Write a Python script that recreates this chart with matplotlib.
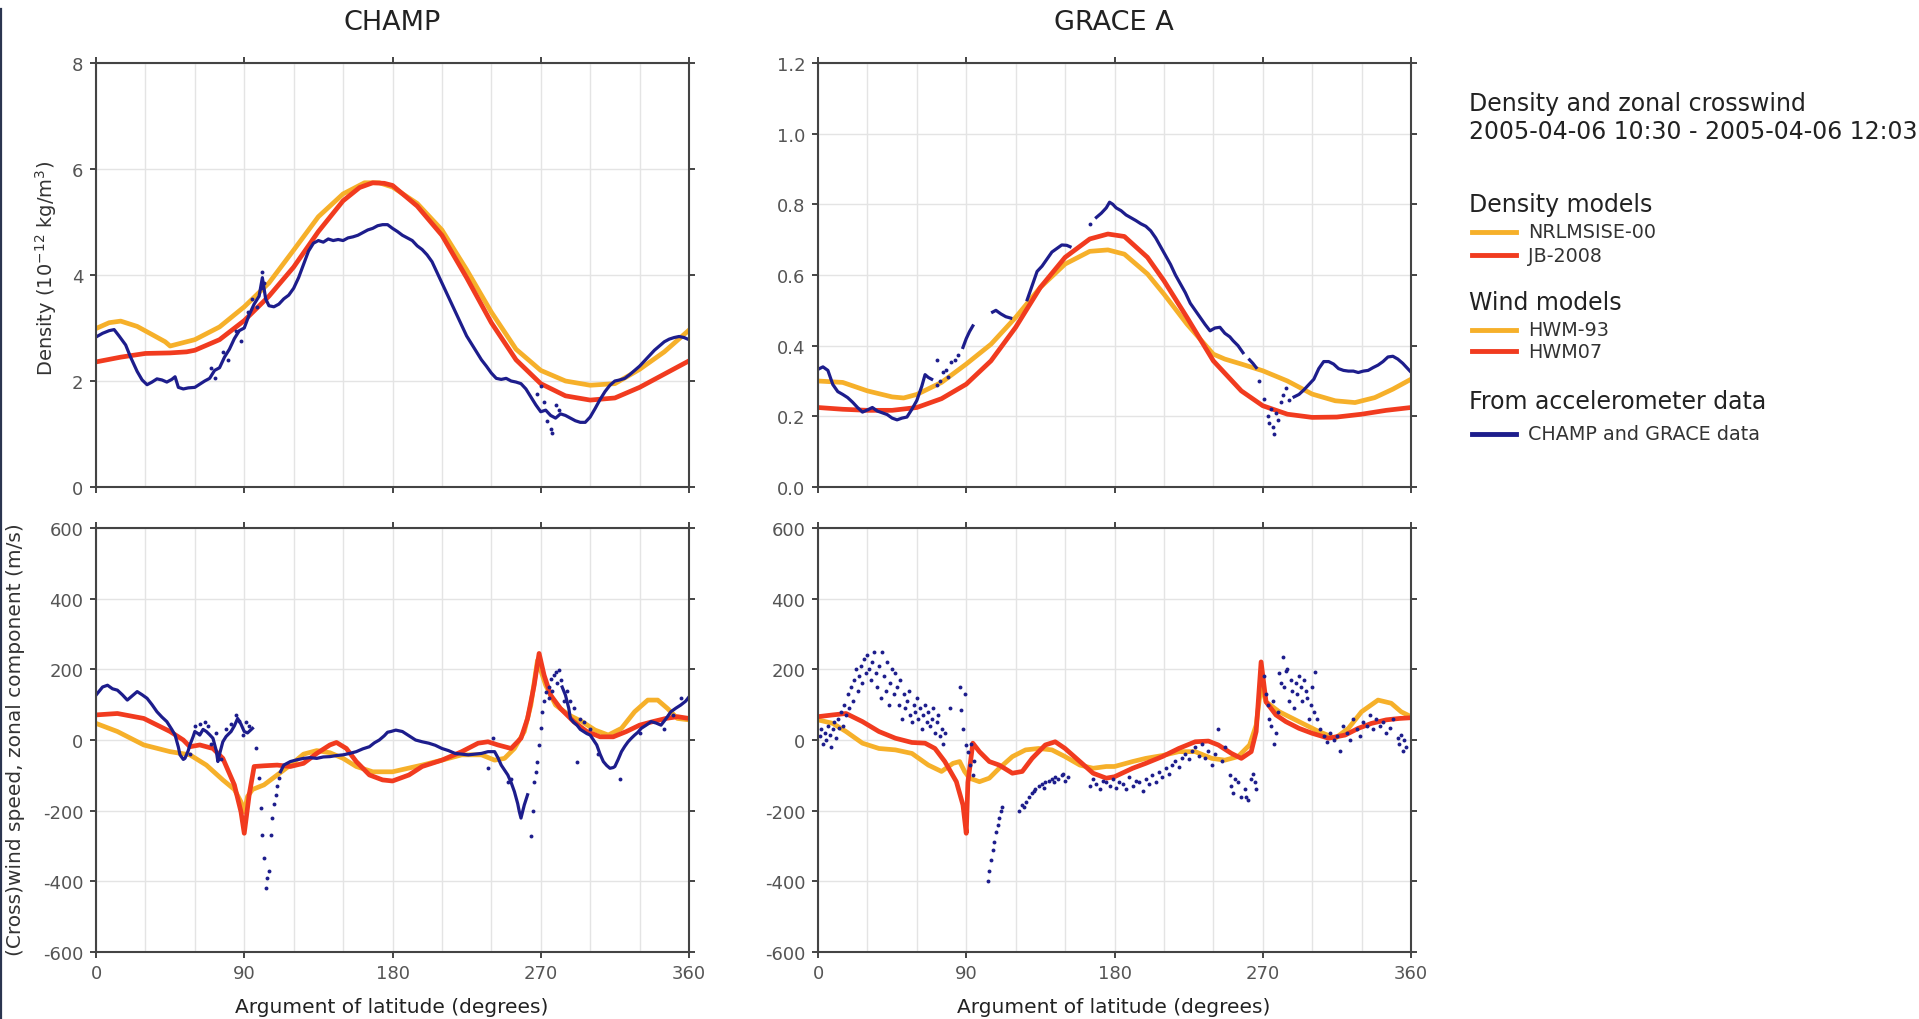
import matplotlib
matplotlib.use("Agg")
import matplotlib.pyplot as plt
import numpy as np
from matplotlib.lines import Line2D
from matplotlib.ticker import FormatStrFormatter

plt.rcParams["font.family"] = ["DejaVu Sans"]
plt.rcParams["axes.unicode_minus"] = False
plt.rcParams["mathtext.default"] = "regular"

NAN = np.nan

# ---------------- CHAMP density (10^-12 kg/m^3) ----------------
champ_nrl_deg = [0, 8, 15, 25, 35, 42, 45, 50, 60, 75, 90, 105, 120, 135, 150, 163, 172, 180,
                 195, 210, 225, 240, 255, 270, 285, 300, 315, 330, 345, 360]
champ_nrl = [2.99, 3.10, 3.13, 3.03, 2.86, 2.74, 2.66, 2.70, 2.78, 3.02, 3.40, 3.85, 4.47, 5.10,
             5.53, 5.74, 5.74, 5.66, 5.35, 4.85, 4.10, 3.30, 2.60, 2.20, 2.00, 1.92, 1.95, 2.22,
             2.55, 2.96]
champ_jb_deg = [0, 15, 30, 45, 55, 60, 75, 90, 105, 120, 135, 150, 160, 168, 175, 180, 195, 210,
                225, 240, 255, 270, 285, 300, 315, 330, 345, 360]
champ_jb = [2.36, 2.45, 2.52, 2.53, 2.55, 2.58, 2.78, 3.14, 3.60, 4.15, 4.82, 5.40, 5.65, 5.74,
            5.73, 5.69, 5.30, 4.75, 3.95, 3.10, 2.40, 1.95, 1.72, 1.64, 1.68, 1.88, 2.13, 2.38]
champ_obs_deg = [0, 4, 8, 11, 14, 18, 21, 25, 28, 31, 34, 37, 40, 43, 46, 48, 50, 53, 56, 60,
                 63, 66, 69, 72, 75, 78, 81, 84, 87, 90, 93, 96, 99, 101, 103, 105, 108, 111,
                 114, 117, 120, 123, 126, 129, 132, 135, 138, 141, 144, 147, 150, 153, 156, 159,
                 162, 165, 168, 171, 174, 177, 180, 183, 186, 189, 192, 195, 198, 201, 204, 207,
                 210, 213, 216, 219, 222, 225, 228, 231, 234, 237, 240, 243, 246, 249, 252, 255,
                 258, 261, 264, 267, 270, 273, 276, 279, 282, 285, 288, 291, 294, 297, 300, 303,
                 306, 309, 312, 315, 318, 321, 324, 327, 330, 333, 336, 339, 342, 345, 348, 351,
                 354, 357, 360]
champ_obs = [2.83, 2.90, 2.95, 2.97, 2.85, 2.68, 2.45, 2.18, 2.02, 1.93, 1.98, 2.04, 2.02, 1.98,
             2.03, 2.08, 1.88, 1.85, 1.87, 1.88, 1.94, 2.00, 2.05, 2.20, 2.25, 2.45, 2.60, 2.80,
             2.95, 3.00, 3.25, 3.45, 3.60, 3.95, 3.55, 3.42, 3.40, 3.45, 3.55, 3.62, 3.75, 3.95,
             4.20, 4.45, 4.60, 4.65, 4.62, 4.68, 4.65, 4.67, 4.65, 4.70, 4.72, 4.75, 4.80, 4.85,
             4.88, 4.93, 4.95, 4.95, 4.88, 4.82, 4.75, 4.70, 4.65, 4.55, 4.48, 4.38, 4.25, 4.05,
             3.85, 3.65, 3.45, 3.25, 3.05, 2.85, 2.70, 2.55, 2.40, 2.28, 2.15, 2.05, 2.03, 2.05,
             2.00, 1.98, 1.95, 1.85, 1.70, 1.55, 1.42, 1.45, 1.35, 1.30, 1.38, 1.35, 1.30, 1.25,
             1.22, 1.22, 1.32, 1.48, 1.65, 1.80, 1.92, 2.00, 2.02, 2.05, 2.12, 2.20, 2.28, 2.38,
             2.48, 2.58, 2.66, 2.74, 2.79, 2.82, 2.84, 2.82, 2.78]
champ_pts_deg = [70, 72, 77, 80, 85, 88, 92, 95, 98, 100, 101, 102,
                 268, 270, 272, 274, 276, 277, 279, 281]
champ_pts = [2.25, 2.05, 2.55, 2.40, 2.95, 2.75, 3.30, 3.55, 3.40, 3.75, 4.05, 3.85,
             1.75, 1.90, 1.60, 1.25, 1.10, 1.02, 1.55, 1.45]

# ---------------- GRACE A density (10^-12 kg/m^3) ----------------
grace_nrl_deg = [0, 15, 30, 45, 52, 60, 75, 90, 105, 120, 135, 150, 165, 176, 186, 200, 210,
                 224, 240, 247, 257, 270, 285, 300, 314, 326, 338, 349, 360]
grace_nrl = [0.300, 0.296, 0.272, 0.255, 0.252, 0.262, 0.296, 0.348, 0.404, 0.480, 0.565,
             0.631, 0.667, 0.671, 0.659, 0.603, 0.546, 0.461, 0.376, 0.362, 0.348, 0.329,
             0.300, 0.263, 0.244, 0.239, 0.253, 0.277, 0.305]
grace_jb_deg = [0, 15, 30, 45, 60, 75, 90, 105, 120, 135, 150, 165, 176, 186, 200, 210, 224,
                240, 257, 270, 285, 300, 315, 330, 345, 360]
grace_jb = [0.225, 0.220, 0.217, 0.217, 0.225, 0.250, 0.291, 0.357, 0.452, 0.565, 0.650,
            0.702, 0.716, 0.709, 0.650, 0.584, 0.480, 0.357, 0.272, 0.230, 0.206, 0.197,
            0.198, 0.206, 0.217, 0.225]
grace_obs_deg = [0, 3, 6, 9, 12, 15, 18, 21, 24, 27, 30, 33, 36, 39, 42, 45, 48, 51, 54, 57,
                 60, 63, 65, 67, 69, 70, 88, 90, 92, 94, 95, 106, 108, 111, 114, 117, 118,
                 127, 130, 133, 136, 139, 142, 145, 148, 151, 153, 154, 169, 172, 175, 177,
                 179, 181, 184, 187, 190, 193, 196, 199, 202, 205, 208, 211, 214, 217, 220,
                 223, 226, 229, 232, 235, 238, 241, 244, 247, 250, 252, 255, 258, 259, 262,
                 264, 266, 267, 289, 292, 295, 298, 301, 304, 307, 310, 313, 316, 319, 322,
                 325, 328, 331, 334, 337, 340, 343, 346, 349, 352, 355, 358, 360]
grace_obs = [0.333, 0.340, 0.330, 0.290, 0.270, 0.262, 0.253, 0.240, 0.225, 0.212, 0.218,
             0.225, 0.215, 0.210, 0.205, 0.195, 0.190, 0.195, 0.198, 0.220, 0.245, 0.285,
             0.318, 0.310, 0.305, NAN, 0.395, 0.420, 0.440, 0.456, NAN, 0.495, 0.500, 0.490,
             0.482, 0.478, NAN, 0.530, 0.570, 0.610, 0.625, 0.645, 0.665, 0.675, 0.685, 0.684,
             0.680, NAN, 0.763, 0.775, 0.790, 0.806, 0.800, 0.790, 0.782, 0.770, 0.762, 0.754,
             0.745, 0.738, 0.725, 0.705, 0.680, 0.655, 0.630, 0.600, 0.575, 0.550, 0.520,
             0.500, 0.480, 0.460, 0.442, 0.450, 0.452, 0.435, 0.425, 0.414, 0.400, 0.380, NAN,
             0.360, 0.350, 0.338, NAN, 0.255, 0.262, 0.275, 0.290, 0.305, 0.335, 0.355, 0.355,
             0.348, 0.335, 0.330, 0.328, 0.328, 0.324, 0.328, 0.330, 0.338, 0.345, 0.355,
             0.368, 0.370, 0.362, 0.350, 0.335, 0.325]
grace_pts_deg = [72, 72, 74, 76, 78, 79, 81, 83, 85, 165,
                 268, 271, 273, 274, 275, 276, 277, 278, 279, 281, 282, 284, 286]
grace_pts = [0.36, 0.29, 0.30, 0.325, 0.33, 0.31, 0.355, 0.36, 0.375, 0.744,
             0.30, 0.25, 0.20, 0.18, 0.22, 0.17, 0.15, 0.21, 0.19, 0.24, 0.26, 0.28, 0.245]

# ---------------- CHAMP zonal crosswind (m/s) ----------------
champ_hwm93_deg = [0, 13, 29, 45, 57, 67, 77, 84, 88, 90, 92, 95, 102, 110, 118, 126, 134, 142,
                   150, 158, 168, 180, 198, 210, 222, 234, 242, 248, 254, 260, 264, 268, 273,
                   279, 287, 295, 303, 311, 319, 327, 335, 341, 347, 353, 360]
champ_hwm93 = [47, 24, -14, -33, -42, -71, -113, -140, -175, -203, -160, -140, -127, -99, -71,
               -40, -30, -36, -52, -75, -90, -90, -71, -57, -42, -42, -57, -52, -24, 24, 99,
               225, 155, 99, 71, 52, 28, 14, 33, 80, 113, 113, 89, 61, 57]
champ_hwm07_deg = [0, 13, 29, 45, 53, 57, 63, 71, 77, 84, 88, 90, 93, 96, 102, 110, 118, 126,
                   134, 142, 146, 152, 158, 166, 174, 180, 190, 198, 210, 222, 232, 238, 244,
                   252, 258, 262, 266, 269, 272, 276, 282, 290, 298, 306, 314, 322, 330, 338,
                   346, 353, 360]
champ_hwm07 = [71, 75, 61, 24, 0, -19, -14, -24, -52, -127, -203, -264, -155, -75, -73, -71,
               -75, -66, -38, -14, -7, -24, -61, -99, -113, -116, -99, -75, -57, -33, -9, -5,
               -14, -24, 5, 61, 155, 245, 184, 127, 89, 52, 24, 9, 9, 24, 42, 52, 61, 66, 61]
champ_wind_deg = [0, 4, 7, 10, 13, 16, 19, 22, 25, 28, 31, 34, 37, 40, 43, 46, 48, 50, 51, 53,
                  54, 56, 57, 59, 60, 62, 63, 65, 67, 69, 71, 73, 74, 75, 77, 79, 82, 84, 86,
                  88, 90, 92, 95, 96,
                  112, 114, 118, 122, 126, 130, 134, 138, 142, 146, 150, 154, 158, 162, 166,
                  169, 172, 175, 177, 179, 182, 186, 190, 194, 198, 202, 206, 210, 214, 218,
                  222, 226, 230, 234, 238, 242, 244, 246, 248, 250, 252, 254, 256, 257, 258,
                  260, 262, 263,
                  283, 285, 287, 288, 290, 292, 294, 296, 298, 300, 302, 304, 306, 308, 310,
                  312, 314, 315, 317, 319, 321, 323, 325, 327, 329, 331, 334, 337, 340, 343,
                  346, 349, 352, 355, 358, 360]
champ_wind = [127, 150, 155, 145, 141, 128, 113, 125, 137, 128, 118, 100, 80, 65, 52, 30, 14,
              -20, -42, -55, -52, -30, -14, 10, 24, 18, 14, 30, 24, 15, 5, -30, -61, -40, -5,
              10, 24, 40, 61, 45, 24, 20, 33, NAN,
              -90, -71, -61, -56, -52, -50, -52, -48, -47, -44, -42, -38, -33, -25, -19, -8,
              0, 12, 22, 24, 28, 24, 12, 0, -5, -9, -15, -24, -30, -38, -40, -42, -40, -38,
              -33, -33, -50, -71, -85, -99, -120, -146, -180, -203, -221, -184, -155, NAN,
              150, 127, 90, 61, 50, 42, 30, 24, 18, 14, 0, -14, -40, -61, -72, -80, -78, -75,
              -55, -33, -18, -5, 5, 14, 22, 33, 42, 52, 48, 42, 60, 80, 90, 99, 110, 122]
champ_wind_pts_deg = [57, 60, 63, 66, 68, 70, 73, 76, 79, 82, 85, 87, 89, 91, 93,
                      97, 99, 100, 101, 102, 103, 104, 105, 106, 107, 108, 109, 110, 111,
                      238, 241, 250, 252,
                      264, 265, 266, 267, 268, 269, 270, 271, 272, 273, 275, 276, 278, 279,
                      281, 282, 275, 277, 280, 284, 286, 288, 290, 292, 294, 296, 300, 305,
                      318, 330, 345, 350, 355]
champ_wind_pts = [-40, 40, 45, 50, 40, -10, 20, -55, 30, 45, 70, 55, 15, 50, 40,
                  -24, -108, -193, -268, -334, -419, -390, -372, -268, -221, -180, -155, -130,
                  -108,
                  -80, 5, -120, -110,
                  -273, -200, -118, -90, -61, -14, 33, 80, 110, 137, 150, 174, 185, 193,
                  198, 170, 120, 140, 160, 110, 140, 110, 90, -61, 60, 50, 30, -40,
                  -110, 20, 30, 70, 120]

# ---------------- GRACE A zonal crosswind (m/s) ----------------
grace_hwm93_deg = [0, 9, 17, 27, 37, 47, 57, 67, 75, 82, 86, 89, 92, 98, 104, 110, 118, 126,
                   134, 142, 150, 159, 167, 175, 180, 191, 199, 209, 219, 229, 239, 247, 255,
                   262, 266, 269, 272, 280, 292, 304, 314, 322, 330, 340, 348, 354, 360]
grace_hwm93 = [57, 47, 24, -9, -24, -28, -38, -71, -89, -66, -61, -89, -108, -118, -108, -80,
               -47, -28, -24, -28, -47, -71, -80, -75, -75, -61, -52, -44, -33, -33, -52, -57,
               -47, -14, 42, 155, 108, 80, 52, 24, 5, 33, 80, 113, 104, 80, 66]
grace_hwm07_deg = [0, 9, 17, 27, 37, 47, 57, 65, 71, 77, 84, 88, 90, 91, 94, 98, 104, 110, 118,
                   124, 130, 138, 144, 150, 159, 167, 175, 180, 191, 199, 209, 219, 229, 237,
                   243, 251, 257, 263, 266, 269, 272, 278, 284, 292, 300, 310, 320, 328, 336,
                   345, 353, 360]
grace_hwm07 = [66, 71, 75, 52, 24, 5, -7, -9, -24, -61, -118, -184, -264, -120, -9, -33, -61,
               -71, -94, -89, -52, -14, -5, -24, -61, -94, -108, -104, -80, -66, -47, -24, -5,
               -3, -14, -38, -52, -33, 24, 221, 108, 71, 52, 33, 19, 5, 14, 33, 47, 57, 61, 63]
grace_wind_deg = [1, 2, 3, 4, 5, 6, 7, 8, 9, 10, 11, 12, 13, 14, 15,
                  16, 17, 18, 19, 20, 21, 22, 23, 24, 25, 26, 27, 28, 29, 30, 31, 32, 33, 34,
                  35, 36, 37, 38, 39, 40, 41, 42, 43, 44, 45, 46,
                  47, 48, 49, 50, 51, 52, 53, 54, 55, 56, 57, 58, 59, 60, 61, 62, 63, 64, 65,
                  66, 67, 68, 69, 70, 71, 72, 73, 74, 75, 76, 77,
                  80, 86, 87, 88, 89, 90, 91, 92, 93, 94, 95,
                  103, 104, 105, 106, 107, 108, 109, 110, 111, 112,
                  122, 124, 125, 126, 128, 130, 131, 132, 134, 136, 137, 138, 140, 142, 143,
                  144, 146, 148, 149, 150, 152,
                  165, 167, 169, 171, 173, 175, 177, 179, 181, 183, 185, 187, 189, 191, 193,
                  195, 197, 199, 201, 203, 205, 207, 209,
                  211, 213, 215, 217, 219, 221, 223, 225, 227, 229, 231,
                  233, 235, 237, 239, 241, 243, 245, 247,
                  250, 251, 252, 253, 255, 257, 259, 260, 261, 263, 264, 265, 266,
                  271, 272, 273, 274, 275, 276, 277, 278, 279, 280, 281, 282, 283, 284, 285,
                  286, 287, 288, 289, 290, 291, 292, 293, 294, 295, 296, 297, 298, 299, 300,
                  301, 302, 303,
                  305, 307, 309, 311, 313, 315, 317, 319, 321, 323, 325, 327, 329, 331, 333,
                  335, 337, 339, 341, 343, 345, 347, 349,
                  352, 353, 354, 355, 356, 357]
grace_wind = [10, 30, -10, 20, 0, 40, 15, -20, 30, 50, 5, 60, 35, 80, 40,
              100, 70, 130, 90, 150, 110, 170, 200, 140, 180, 210, 160, 230, 190, 240, 200,
              170, 220, 250, 190, 150, 210, 120, 250, 180, 140, 220, 100, 160, 200, 130,
              190, 150, 100, 170, 60, 130, 90, 110, 140, 70, 50, 100, 80, 120, 60, 90, 30,
              70, 100, 50, 80, 40, 60, 90, 20, 50, 70, 10, 30, -10, 20,
              90, 150, 85, 30, 130, -15, -35, -70, -10, -100, -60,
              -400, -370, -340, -310, -290, -260, -240, -220, -200, -190,
              -200, -185, -190, -175, -160, -150, -145, -140, -130, -125, -135, -120, -115,
              -110, -120, -105, -110, -100, -95, -115, -105,
              -130, -110, -125, -140, -115, -120, -130, -110, -135, -120, -125, -140, -105,
              -130, -115, -120, -145, -110, -125, -100, -120, -90, -105,
              -80, -95, -70, -60, -75, -50, -40, -55, -30, -20, -45,
              -10, -50, -30, -70, -40, 30, -60, -20,
              -100, -130, -150, -110, -120, -160, -140, -160, -170, -110, -95, -120, -140,
              180, 130, 100, 60, 40, 110, -10, 20, 80, 190, 160, 236, 150, 196, 200,
              110, 170, 140, 90, 160, 130, 180, 150, 110, 170, 140, 120, 60, 100, 150,
              80, 193, 60,
              30, 10, -5, 20, 0, 10, -30, 40, 20, 0, 60, 30, 10, 50, 40,
              70, 30, 60, 40, 50, 20, 35, 60,
              5, -10, 15, -30, 0, -20]

# ---------------- palette ----------------
ORANGE = "#f6b02a"
RED = "#f13b1f"
NAVY = "#1d1d8c"
SPINE = "#444444"
GRID = "#e4e4e4"

W, H = 1919, 1020
fig = plt.figure(figsize=(W / 100, H / 100), dpi=100)


def px_rect(x0, y0, x1, y1):
    return [x0 / W, 1 - y1 / H, (x1 - x0) / W, (y1 - y0) / H]


def style(ax, ylim, yticks, fmt=None, xlabels=False):
    ax.set_xlim(0, 360)
    ax.set_ylim(*ylim)
    ax.set_xticks([0, 90, 180, 270, 360])
    ax.set_xticks([30, 60, 120, 150, 210, 240, 300, 330], minor=True)
    ax.set_yticks(yticks)
    if fmt:
        ax.yaxis.set_major_formatter(FormatStrFormatter(fmt))
    ax.grid(True, which="both", axis="x", color=GRID, lw=1.0)
    ax.grid(True, which="major", axis="y", color=GRID, lw=1.0)
    ax.set_axisbelow(True)
    ax.tick_params(which="major", direction="out", length=4, width=1.4, color=SPINE,
                   top=True, right=True, labelsize=13, labelcolor="#555555", pad=5)
    ax.tick_params(which="minor", length=0)
    if not xlabels:
        ax.tick_params(labelbottom=False)
    for s in ax.spines.values():
        s.set_color(SPINE)
        s.set_linewidth(1.5)


ax_cd = fig.add_axes(px_rect(96, 64, 689, 488))
ax_gd = fig.add_axes(px_rect(818, 64, 1411, 488))
ax_cw = fig.add_axes(px_rect(96, 529, 689, 953))
ax_gw = fig.add_axes(px_rect(818, 529, 1411, 953))

style(ax_cd, (0, 8), [0, 2, 4, 6, 8])
style(ax_gd, (0, 1.2), [0, 0.2, 0.4, 0.6, 0.8, 1.0, 1.2], fmt="%.1f")
style(ax_cw, (-600, 600), [-600, -400, -200, 0, 200, 400, 600], xlabels=True)
style(ax_gw, (-600, 600), [-600, -400, -200, 0, 200, 400, 600], xlabels=True)

LW_MODEL = 3.4
LW_OBS = 2.3
MS = 2.8

# density panels
ax_cd.plot(champ_nrl_deg, champ_nrl, color=ORANGE, lw=LW_MODEL)
ax_cd.plot(champ_jb_deg, champ_jb, color=RED, lw=LW_MODEL)
ax_cd.plot(champ_obs_deg, champ_obs, color=NAVY, lw=LW_OBS)
ax_cd.plot(champ_pts_deg, champ_pts, "o", color=NAVY, ms=MS, mec="none")

ax_gd.plot(grace_nrl_deg, grace_nrl, color=ORANGE, lw=LW_MODEL)
ax_gd.plot(grace_jb_deg, grace_jb, color=RED, lw=LW_MODEL)
ax_gd.plot(grace_obs_deg, grace_obs, color=NAVY, lw=LW_OBS)
ax_gd.plot(grace_pts_deg, grace_pts, "o", color=NAVY, ms=MS, mec="none")

# wind panels
ax_cw.plot(champ_hwm93_deg, champ_hwm93, color=ORANGE, lw=LW_MODEL)
ax_cw.plot(champ_hwm07_deg, champ_hwm07, color=RED, lw=LW_MODEL)
ax_cw.plot(champ_wind_deg, champ_wind, color=NAVY, lw=LW_OBS)
ax_cw.plot(champ_wind_pts_deg, champ_wind_pts, "o", color=NAVY, ms=MS, mec="none")

ax_gw.plot(grace_hwm93_deg, grace_hwm93, color=ORANGE, lw=LW_MODEL)
ax_gw.plot(grace_hwm07_deg, grace_hwm07, color=RED, lw=LW_MODEL)
ax_gw.plot(grace_wind_deg, grace_wind, "o", color=NAVY, ms=MS, mec="none")

# titles and axis labels
TXT = "#222222"
fig.text(392 / W, 1 - 23 / H, "CHAMP", ha="center", va="center", fontsize=19.5, color=TXT)
fig.text(1114 / W, 1 - 23 / H, "GRACE A", ha="center", va="center", fontsize=19.5, color=TXT)
fig.text(46 / W, 1 - 268 / H, r"Density (10$^{-12}$ kg/m$^3$)", rotation=90, ha="center",
         va="center", fontsize=14, color="#333333")
fig.text(16 / W, 1 - 740 / H, "(Cross)wind speed, zonal component (m/s)", rotation=90,
         ha="center", va="center", fontsize=14.5, color="#333333")
for cx in (392, 1114):
    fig.text(cx / W, 1 - 1008 / H, "Argument of latitude (degrees)", ha="center",
             va="center", fontsize=14.5, color=TXT)

# legend block
LX, SX0, SX1, TX = 1469, 1472, 1516, 1528
headers = [(104, "Density and zonal crosswind"),
           (132, "2005-04-06 10:30 - 2005-04-06 12:03"),
           (205, "Density models"),
           (303, "Wind models"),
           (402, "From accelerometer data")]
for y, s in headers:
    fig.text(LX / W, 1 - y / H, s, ha="left", va="center", fontsize=17, color=TXT)
entries = [(233, ORANGE, "NRLMSISE-00"), (256, RED, "JB-2008"),
           (331, ORANGE, "HWM-93"), (352, RED, "HWM07"),
           (435, NAVY, "CHAMP and GRACE data")]
for y, c, s in entries:
    fig.add_artist(Line2D([SX0 / W, SX1 / W], [1 - y / H, 1 - y / H], color=c, lw=3.5,
                          transform=fig.transFigure))
    fig.text(TX / W, 1 - y / H, s, ha="left", va="center", fontsize=13.8, color="#333333")

# frame edge on the left side
fig.add_artist(Line2D([1 / W, 1 / W], [0, 1 - 10 / H], color="#2b3550", lw=1.6,
                      transform=fig.transFigure))

fig.savefig("out.png", dpi=100, facecolor="white")
